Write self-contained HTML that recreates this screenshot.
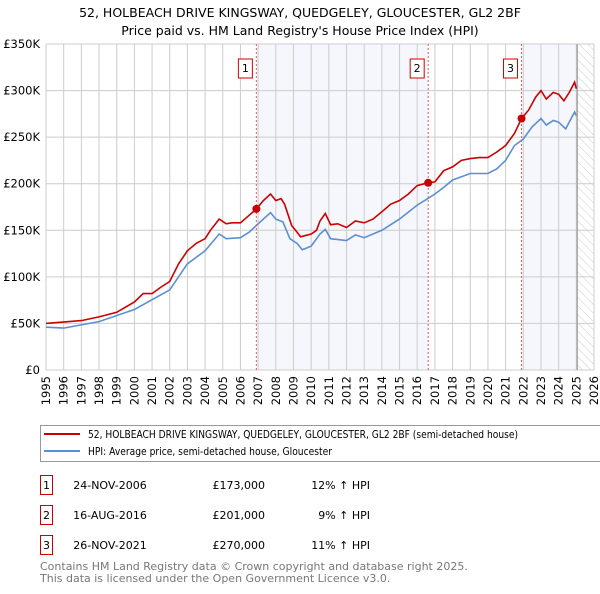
<!DOCTYPE html>
<html><head><meta charset="utf-8"><style>
body{margin:0;background:#fff;font-family:"DejaVu Sans","Liberation Sans",sans-serif;}
svg text{font-family:"DejaVu Sans","Liberation Sans",sans-serif;}
</style></head><body>
<svg id="chart" width="600" height="590" xmlns="http://www.w3.org/2000/svg">
<defs><pattern id="hatch" width="6" height="6" patternUnits="userSpaceOnUse" patternTransform="rotate(-45)"><line x1="0" y1="0" x2="0" y2="6" stroke="#ccc" stroke-width="1"/></pattern></defs>
<text x="300" y="17" text-anchor="middle" font-size="12.5">52, HOLBEACH DRIVE KINGSWAY, QUEDGELEY, GLOUCESTER, GL2 2BF</text>
<text x="300" y="35" text-anchor="middle" font-size="12.5">Price paid vs. HM Land Registry's House Price Index (HPI)</text>
<g id="bg"></g><g id="grid"></g><g id="axes"></g><g id="lines"></g><g id="marks"></g>
<g>
<rect x="40.5" y="425.5" width="562" height="36" fill="#fff" stroke="#999"/>
<line x1="44" y1="434" x2="80" y2="434" stroke="#cc0000" stroke-width="2"/>
<text x="88" y="438" font-size="11" textLength="430" lengthAdjust="spacingAndGlyphs">52, HOLBEACH DRIVE KINGSWAY, QUEDGELEY, GLOUCESTER, GL2 2BF (semi-detached house)</text>
<line x1="44" y1="451" x2="80" y2="451" stroke="#5b8fd4" stroke-width="2"/>
<text x="88" y="455" font-size="11" textLength="244" lengthAdjust="spacingAndGlyphs">HPI: Average price, semi-detached house, Gloucester</text>
</g>
<g id="table" font-size="11"></g>
<text x="40" y="570" font-size="11" fill="#777">Contains HM Land Registry data © Crown copyright and database right 2025.</text>
<text x="40" y="582" font-size="11" fill="#777">This data is licensed under the Open Government Licence v3.0.</text>
</svg>
<script>
const priceDates=[1995,1997,1998,1999,2000,2000.5,2001,2001.5,2002,2002.5,2003,2003.5,2004,2004.3,2004.8,2005.2,2005.5,2006,2006.3,2006.9,2007.3,2007.7,2008,2008.3,2008.5,2008.9,2009.2,2009.4,2010,2010.3,2010.5,2010.8,2011.1,2011.5,2012,2012.5,2013,2013.5,2014,2014.5,2015,2015.5,2016,2016.6,2017,2017.5,2018,2018.5,2019,2019.5,2020,2020.5,2021,2021.5,2021.9,2022.3,2022.7,2023,2023.3,2023.7,2024,2024.3,2024.6,2024.9,2025];
const priceValues=[50,53,57,62,73,82,82,89,95,114,128,136,141,150,162,157,158,158,163,173,182,189,182,184,178,155,148,143,146,150,160,168,156,157,153,160,158,162,170,178,182,189,198,201,202,214,218,225,227,228,228,234,241,254,270,279,293,300,291,298,296,289,298,309,302];
const hpiDates=[1995,1996,1998,2000,2002,2003,2004,2004.8,2005.2,2006,2006.5,2007,2007.7,2008,2008.4,2008.8,2009.2,2009.5,2010,2010.5,2010.8,2011.1,2012,2012.5,2013,2014,2015,2016,2016.6,2017,2017.5,2018,2019,2020,2020.5,2021,2021.5,2022,2022.5,2023,2023.3,2023.7,2024,2024.4,2024.9,2025];
const hpiValues=[46,45,52,65,86,114,128,146,141,142,148,157,169,162,159,141,136,129,133,146,151,141,139,145,142,150,162,177,184,189,196,204,211,211,216,225,241,248,261,270,263,268,266,259,277,273];
const saleLabels=["1","2","3"];
const saleDates=[2006.9,2016.62,2021.9];
const saleValues=[173,201,270];
const saleDateText=["24-NOV-2006","16-AUG-2016","26-NOV-2021"];
const salePriceText=["£173,000","£201,000","£270,000"];
const saleHpiText=["12% ↑ HPI","9% ↑ HPI","11% ↑ HPI"];
const yTicks=[0,50,100,150,200,250,300,350];
const yTickLabels=["£0","£50K","£100K","£150K","£200K","£250K","£300K","£350K"];
const xYears=[];for(let y=1995;y<=2026;y++)xYears.push(y);

const X0=46,X1=594,Y0=370,Y1=44;
const xs=t=>X0+(t-1995)/(2026-1995)*(X1-X0);
const ys=v=>Y0-v/350*(Y0-Y1);
const NS="http://www.w3.org/2000/svg";
function mk(tag,attrs,parent,txt){const e=document.createElementNS(NS,tag);for(const k in attrs)e.setAttribute(k,attrs[k]);if(txt!==undefined)e.textContent=txt;document.getElementById(parent).appendChild(e);return e;}

let r;
r=mk('rect',{x:xs(saleDates[0]),y:Y1,width:xs(saleDates[1])-xs(saleDates[0]),height:Y0-Y1,fill:'#eef2fc',opacity:0.6},'bg');


r=mk('rect',{x:xs(saleDates[2]),y:Y1,width:xs(2025.05)-xs(saleDates[2]),height:Y0-Y1,fill:'#eef2fc',opacity:0.6},'bg');


r=mk('rect',{x:xs(2025.05),y:Y1,width:X1-xs(2025.05),height:Y0-Y1,fill:'url(#hatch)'},'bg');



xYears.forEach(y=>{
 const l=mk('line',{x1:xs(y),x2:xs(y),y1:Y1,y2:Y0,stroke:'#ccc','stroke-width':1},'grid');
 
 
 const t=mk('text',{x:0,y:0,'font-size':11.5,'text-anchor':'end',transform:`translate(${xs(y)+4},${376}) rotate(-90)`},'axes',String(y));
 
 
});
yTicks.forEach((v,i)=>{
 const l=mk('line',{x1:X0,x2:X1,y1:ys(v),y2:ys(v),stroke:'#ccc','stroke-width':1},'grid');
 
 
 const t=mk('text',{x:40,y:ys(v)+4,'font-size':11.5,'text-anchor':'end'},'axes',yTickLabels[i]);
 
 
});
let cur=mk('line',{x1:xs(2025.05),x2:xs(2025.05),y1:Y1,y2:Y0,stroke:'#999','stroke-width':1.2},'grid');



function path(d,v){return d.map((t,i)=>(i?'L':'M')+xs(t).toFixed(1)+','+ys(v[i]).toFixed(1)).join('');}
let p=mk('path',{d:path(hpiDates,hpiValues),fill:'none',stroke:'#5b8fd4','stroke-width':1.6},'lines');


p=mk('path',{d:path(priceDates,priceValues),fill:'none',stroke:'#cc0000','stroke-width':1.6},'lines');



saleDates.forEach((d,i)=>{
 const l=mk('line',{x1:xs(d),x2:xs(d),y1:Y1,y2:Y0,stroke:'#e06060','stroke-width':1,'stroke-dasharray':'2,2'},'marks');
 
 
 const b=mk('rect',{x:xs(d)-18,y:59,width:14,height:19,fill:'#fff',stroke:'#cc0000'},'marks');
 
 
 const t=mk('text',{x:xs(d)-11,y:72,'font-size':11,'text-anchor':'middle'},'marks',saleLabels[i]);
 
 
 const c=mk('circle',{cx:xs(d),cy:ys(saleValues[i]),r:4,fill:'#cc0000'},'marks');
 
 
 const yy=486+i*30;
 const nb=mk('rect',{x:40.5,y:yy-10.5,width:12,height:19,fill:'#fff',stroke:'#cc0000'},'table');
 
 
 let tt=mk('text',{x:46.5,y:yy+3,'text-anchor':'middle'},'table',saleLabels[i]);
 
 
 tt=mk('text',{x:110,y:yy+3,'text-anchor':'middle'},'table',saleDateText[i]);
 
 
 tt=mk('text',{x:265,y:yy+3,'text-anchor':'end'},'table',salePriceText[i]);
 
 
 tt=mk('text',{x:370,y:yy+3,'text-anchor':'end'},'table',saleHpiText[i]);
 
 
});
</script>
</body></html>
